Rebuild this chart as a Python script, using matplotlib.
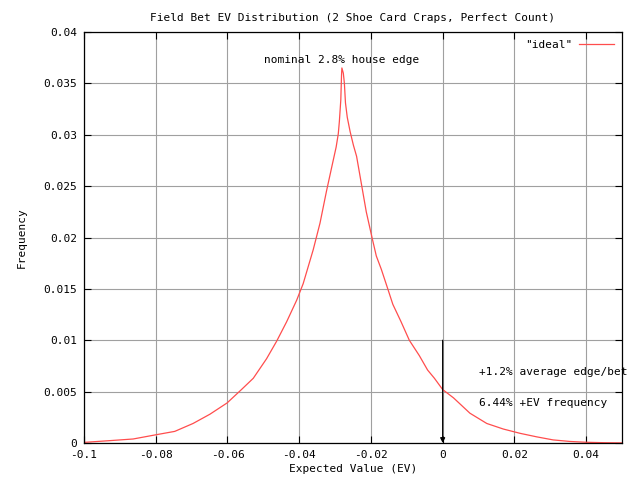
import matplotlib
matplotlib.use("Agg")
import matplotlib.pyplot as plt

# EV distribution
ev = [-0.1, -0.0928, -0.0863, -0.0798, -0.0747, -0.0696, -0.0649, -0.0601, -0.0561,
      -0.0528, -0.0491, -0.0463, -0.0435, -0.0407, -0.0389, -0.0361, -0.0342,
      -0.0324, -0.0309, -0.0297, -0.0291, -0.0288, -0.0284, -0.0282, -0.0281,
      -0.0277, -0.0274, -0.0271, -0.0266, -0.0258, -0.0249, -0.0240, -0.0229,
      -0.0213, -0.0197, -0.0185, -0.0171, -0.0153, -0.0139, -0.0116, -0.0093,
      -0.0065, -0.0042, -0.0023, 0.0, 0.003, 0.0076, 0.0123, 0.0169, 0.0216,
      0.0262, 0.0308, 0.0355, 0.0401, 0.045, 0.05]
freq = [0.00006, 0.00023, 0.00039, 0.00081, 0.00113, 0.0019, 0.0028, 0.0039, 0.0052,
        0.0063, 0.0082, 0.0099, 0.0118, 0.0139, 0.0155, 0.0188, 0.0214,
        0.0245, 0.0269, 0.0288, 0.0301, 0.0313, 0.0334, 0.0358, 0.0365,
        0.0360, 0.0350, 0.0331, 0.0317, 0.0303, 0.0290, 0.0279, 0.0257,
        0.0225, 0.0200, 0.0182, 0.0169, 0.0150, 0.0135, 0.0118, 0.0100,
        0.0085, 0.0071, 0.0063, 0.0052, 0.0044, 0.0029, 0.0019, 0.00136, 0.00094,
        0.0006, 0.0003, 0.00015, 0.00007, 0.00003, 0.00001]

xticks = [-0.1, -0.08, -0.06, -0.04, -0.02, 0, 0.02, 0.04]
xtick_labels = ["-0.1", "-0.08", "-0.06", "-0.04", "-0.02", "0", "0.02", "0.04"]
yticks = [0, 0.005, 0.01, 0.015, 0.02, 0.025, 0.03, 0.035, 0.04]
ytick_labels = ["0", "0.005", "0.01", "0.015", "0.02", "0.025", "0.03", "0.035", "0.04"]

plt.rcParams['font.family'] = ['DejaVu Sans Mono']
plt.rcParams['font.size'] = 8

fig = plt.figure(figsize=(6.4, 4.8), dpi=100)
ax = fig.add_axes([84/640, 37/480, 538/640, 411/480])

ax.plot(ev, freq, color='#ff4d4d', lw=0.9, label='"ideal"')

ax.set_xlim(-0.1, 0.05)
ax.set_ylim(0, 0.04)
ax.set_xticks(xticks)
ax.set_xticklabels(xtick_labels)
ax.set_yticks(yticks)
ax.set_yticklabels(ytick_labels)
ax.tick_params(direction='in', top=True, right=True, length=5, width=0.8,
               labelsize=8, pad=5)
ax.grid(True, color='#a0a0a0', lw=0.8)
ax.set_axisbelow(True)
for s in ax.spines.values():
    s.set_linewidth(0.9)

ax.set_title('Field Bet EV Distribution (2 Shoe Card Craps, Perfect Count)',
             fontsize=8, pad=8)
ax.set_xlabel('Expected Value (EV)', fontsize=8, labelpad=3)
ax.set_ylabel('Frequency', fontsize=8, labelpad=12)

ax.text(-0.0281, 0.0373, 'nominal 2.8% house edge', ha='center', va='center', fontsize=8)
ax.text(0.0102, 0.0069, '+1.2% average edge/bet', ha='left', va='center', fontsize=8,
        clip_on=False)
ax.text(0.0102, 0.0039, '6.44% +EV frequency', ha='left', va='center', fontsize=8)
ax.annotate('', xy=(0, 0), xytext=(0, 0.01),
            arrowprops=dict(arrowstyle='-|>', color='black', lw=0.9,
                            mutation_scale=7, shrinkA=0, shrinkB=0))

leg = ax.legend(loc='upper right', frameon=False, fontsize=8, handlelength=3.2,
                markerfirst=False, borderaxespad=0.3, handletextpad=0.6)

fig.savefig('out.png', dpi=100)
